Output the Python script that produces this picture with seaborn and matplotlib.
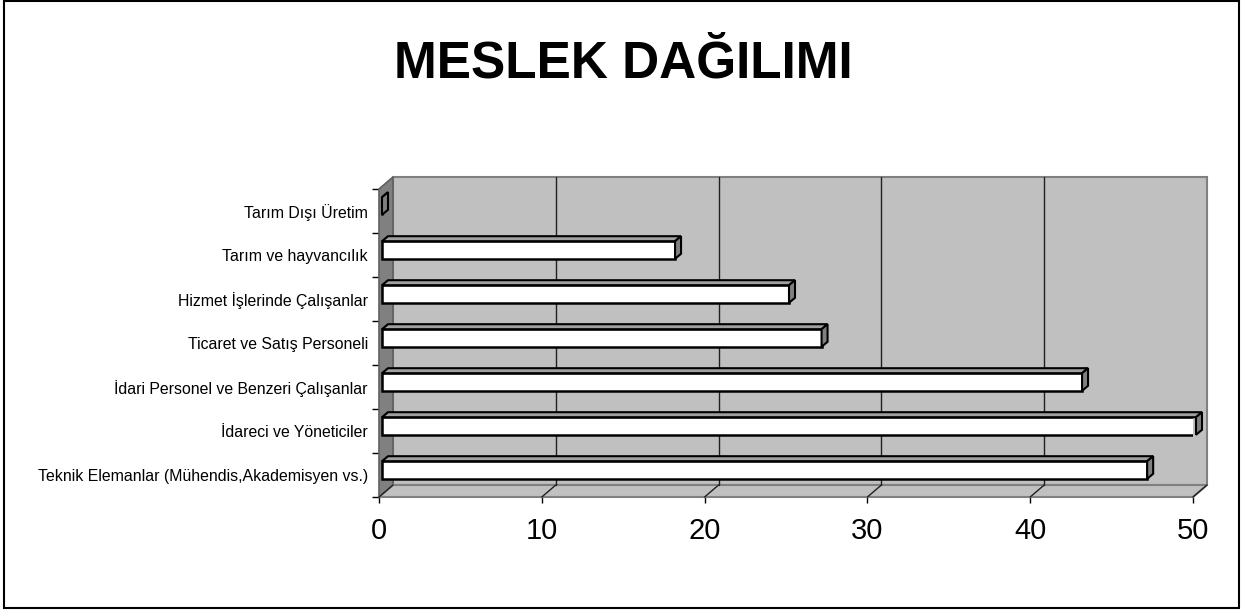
import matplotlib
matplotlib.use("Agg")
import matplotlib.pyplot as plt
import numpy as np
import seaborn as sns
from matplotlib.patches import Polygon, Rectangle

# -------------------------------
# DATA
# -------------------------------
meslekler = [
    "Tarım Dışı Üretim",
    "Tarım ve hayvancılık",
    "Hizmet İşlerinde Çalışanlar",
    "Ticaret ve Satış Personeli",
    "İdari Personel ve Benzeri Çalışanlar",
    "İdareci ve Yöneticiler",
    "Teknik Elemanlar (Mühendis,Akademisyen vs.)",
]
sayilar = [0, 18, 25, 27, 43, 50, 47]
x_ticks = [0, 10, 20, 30, 40, 50]
baslik = "MESLEK DAĞILIMI"

sns.set_style("white")
plt.rcParams["font.family"] = ["Liberation Sans", "DejaVu Sans"]
plt.rcParams["text.color"] = "black"
plt.rcParams["xtick.color"] = "black"
plt.rcParams["ytick.color"] = "black"
plt.rcParams["axes.labelcolor"] = "black"

W, H = 1249, 612
fig = plt.figure(figsize=(W / 100, H / 100), dpi=100)

# front plane of the "3d" box, in pixels
left_px, right_px, top_px, bot_px = 379, 1193, 189, 497
ax = fig.add_axes([left_px / W, 1 - bot_px / H,
                   (right_px - left_px) / W, (bot_px - top_px) / H])

sns.barplot(x=sayilar, y=meslekler, color="white", edgecolor="black",
            linewidth=1.8, width=0.4, ax=ax, zorder=4)
ax.set_xlim(0, 50)
ax.set_ylim(6.5, -0.5)

sx = (right_px - left_px) / 50.0   # px per value
sy = (bot_px - top_px) / 7.0       # px per category
Dx, Dy = 14 / sx, -12 / sy          # wall depth
bx, by = 6 / sx, -5 / sy            # bar depth

# -------------------------------
# WALLS
# -------------------------------
wall = Rectangle((Dx, -0.5 + Dy), 50, 7, facecolor="#C0C0C0",
                 edgecolor="#808080", lw=1.5, zorder=1, clip_on=False)
ax.add_patch(wall)
side = Polygon([(0, -0.5), (Dx, -0.5 + Dy), (Dx, 6.5 + Dy), (0, 6.5)],
               facecolor="#808080", edgecolor="#606060", lw=1.2,
               zorder=1.5, clip_on=False)
ax.add_patch(side)
floor = Polygon([(0, 6.5), (50, 6.5), (50 + Dx, 6.5 + Dy), (Dx, 6.5 + Dy)],
                facecolor="#C0C0C0", edgecolor="#808080", lw=1.5,
                zorder=1.5, clip_on=False)
ax.add_patch(floor)

for t in x_ticks:
    if 0 < t < 50:
        ax.plot([t + Dx, t + Dx], [-0.5 + Dy, 6.5 + Dy], color="#202020",
                lw=1, zorder=2, clip_on=False)
    ax.plot([t, t + Dx], [6.5, 6.5 + Dy], color="#202020", lw=1,
            zorder=2, clip_on=False)

# -------------------------------
# BARS (3d faces)
# -------------------------------
for p in ax.patches[:]:
    if not isinstance(p, Rectangle) or p is wall:
        continue
    p.set_x(p.get_x() + 3 / sx)
    p.set_y(p.get_y() - 5 / sy)
    x0, y0, w, h = p.get_x(), p.get_y(), p.get_width(), p.get_height()
    top = Polygon([(x0, y0), (x0 + w, y0), (x0 + w + bx, y0 + by), (x0 + bx, y0 + by)],
                  facecolor="#A0A0A0", edgecolor="black", lw=1.5,
                  zorder=4, clip_on=False)
    end = Polygon([(x0 + w, y0), (x0 + w + bx, y0 + by),
                   (x0 + w + bx, y0 + h + by), (x0 + w, y0 + h)],
                  facecolor="#808080", edgecolor="black", lw=1.5,
                  zorder=4, clip_on=False)
    ax.add_patch(top)
    ax.add_patch(end)

# -------------------------------
# AXES
# -------------------------------
for s in ax.spines.values():
    s.set_visible(False)
ax.set_xticks(x_ticks)
ax.set_xticklabels([str(t) for t in x_ticks], fontsize=21)
ax.tick_params(axis="x", length=4.5, width=1, color="black", pad=10, bottom=True)
ax.set_yticks(range(len(meslekler)))
ax.set_yticklabels(meslekler, fontsize=11.4)
ax.tick_params(axis="y", which="major", length=0, pad=8, left=True)
ax.set_yticks(np.arange(-0.5, 7, 1), minor=True)
ax.tick_params(axis="y", which="minor", length=5, width=1, color="black", left=True)
ax.set_xlabel("")
ax.set_ylabel("")
ax.grid(False)

fig.text(623 / W, 1 - 77 / H, baslik, ha="center", va="baseline",
         fontsize=37, fontweight="bold")

fig.patches.append(Rectangle((4 / W, 1 - 608 / H), 1235 / W, 607 / H,
                             transform=fig.transFigure, fill=False,
                             edgecolor="black", lw=1.5))

fig.savefig("out.png", dpi=100)
